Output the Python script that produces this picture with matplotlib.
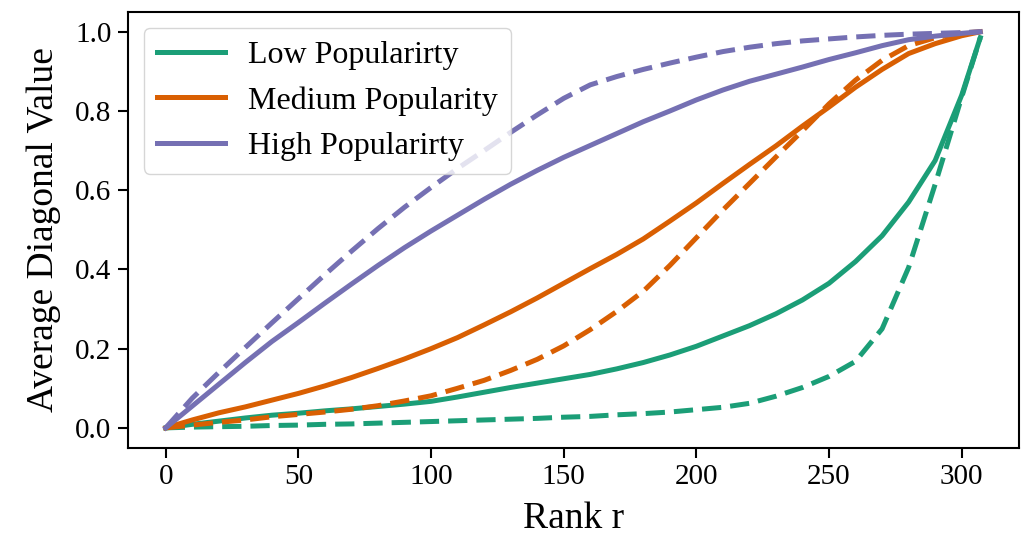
import matplotlib
matplotlib.use("Agg")
import matplotlib.pyplot as plt

plt.rcParams['font.family'] = ['Liberation Serif', 'DejaVu Serif']

rank = [0, 10, 20, 30, 40, 50, 60, 70, 80, 90, 100, 110, 120, 130, 140, 150,
        160, 170, 180, 190, 200, 210, 220, 230, 240, 250, 260, 270, 280, 290, 300, 307]

low_solid = [0, 0.009, 0.017, 0.025, 0.032, 0.037, 0.043, 0.048, 0.054, 0.06, 0.067,
             0.078, 0.09, 0.102, 0.113, 0.124, 0.135, 0.149, 0.165, 0.184, 0.206,
             0.232, 0.258, 0.288, 0.323, 0.365, 0.42, 0.485, 0.57, 0.675, 0.84, 0.985]
low_dashed = [0, 0.002, 0.003, 0.004, 0.006, 0.007, 0.009, 0.01, 0.012, 0.014, 0.016,
              0.018, 0.02, 0.022, 0.024, 0.027, 0.029, 0.033, 0.036, 0.04, 0.046,
              0.052, 0.062, 0.08, 0.102, 0.13, 0.168, 0.25, 0.405, 0.615, 0.835, 0.985]

med_solid = [0, 0.02, 0.038, 0.053, 0.07, 0.087, 0.106, 0.127, 0.15, 0.174, 0.2,
             0.228, 0.26, 0.293, 0.328, 0.365, 0.402, 0.438, 0.477, 0.522, 0.568,
             0.617, 0.665, 0.712, 0.762, 0.81, 0.86, 0.905, 0.945, 0.97, 0.99, 1.0]
med_dashed = [0, 0.007, 0.014, 0.02, 0.028, 0.034, 0.04, 0.047, 0.056, 0.068, 0.081,
              0.1, 0.12, 0.145, 0.173, 0.207, 0.248, 0.294, 0.345, 0.41, 0.48,
              0.55, 0.617, 0.684, 0.75, 0.818, 0.878, 0.928, 0.965, 0.985, 0.997, 1.0]

high_solid = [0, 0.055, 0.11, 0.165, 0.218, 0.266, 0.315, 0.363, 0.41, 0.455, 0.497,
              0.537, 0.577, 0.615, 0.65, 0.683, 0.713, 0.743, 0.773, 0.8, 0.828,
              0.853, 0.875, 0.893, 0.911, 0.93, 0.947, 0.965, 0.98, 0.989, 0.996, 1.0]
high_dashed = [0, 0.075, 0.14, 0.203, 0.265, 0.326, 0.387, 0.446, 0.503, 0.557, 0.607,
               0.655, 0.7, 0.746, 0.79, 0.832, 0.866, 0.887, 0.905, 0.921, 0.936,
               0.95, 0.961, 0.97, 0.977, 0.982, 0.987, 0.991, 0.994, 0.996, 0.998, 1.0]

labels = ['Low Popularirty', 'Medium Popularity', 'High Popularirty']
colors = ['#1b9e77', '#d95f02', '#7570b3']

fig, ax = plt.subplots(figsize=(10.25, 5.35), dpi=100)
fig.subplots_adjust(left=0.1249, right=0.9944, top=0.9776, bottom=0.1632)

lw = 3.6
dash = (3.85, 1.8)
series = [(low_solid, low_dashed), (med_solid, med_dashed), (high_solid, high_dashed)]
for (solid, dashed), lab, c in zip(series, labels, colors):
    ax.plot(rank, solid, color=c, lw=lw, label=lab)
    ax.plot(rank, dashed, color=c, lw=lw, linestyle=(0, dash))

ax.set_xlim(-14.2, 321.7)
ax.set_ylim(-0.05, 1.05)
ax.set_xlabel('Rank r', fontsize=27, labelpad=8)
ax.set_ylabel('Average Diagonal Value', fontsize=27, labelpad=10)
ax.set_xticks([0, 50, 100, 150, 200, 250, 300])
ax.set_yticks([0.0, 0.2, 0.4, 0.6, 0.8, 1.0])
ax.tick_params(labelsize=21, length=7, width=1.5, pad=5)
for s in ax.spines.values():
    s.set_linewidth(1.5)

ax.legend(loc='upper left', fontsize=23, handlelength=2.15, handletextpad=0.72,
          labelspacing=0.5, borderaxespad=0.5, frameon=True)

fig.savefig('out.png', dpi=100)
